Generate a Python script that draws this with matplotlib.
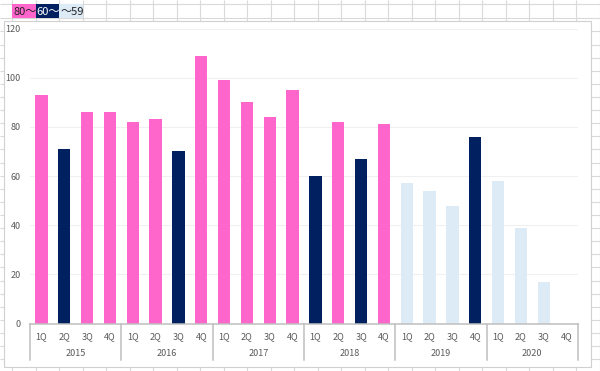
import numpy as np
import matplotlib
matplotlib.use("Agg")
import matplotlib.pyplot as plt
from matplotlib.patches import Rectangle

plt.rcParams['font.family'] = ['Noto Sans CJK JP', 'DejaVu Sans']

# ---- data ----
years = ["2015", "2016", "2017", "2018", "2019", "2020"]
quarters = ["1Q", "2Q", "3Q", "4Q"]
values = [93, 71, 86, 86,
          82, 83, 70, 109,
          99, 90, 84, 95,
          60, 82, 67, 81,
          57, 54, 48, 76,
          58, 39, 17, np.nan]
y_ticks = [0, 20, 40, 60, 80, 100, 120]
legend_labels = ["80～", "60～", "～59"]

# ---- style ----
PINK = "#FF66CC"
NAVY = "#002060"
LIGHT = "#DDEBF7"
TXT = "#595959"
W, H = 600, 371

def color_for(v):
    if v >= 80:
        return PINK
    if v >= 60:
        return NAVY
    return LIGHT

fig = plt.figure(figsize=(W / 100, H / 100), dpi=100)
fig.patch.set_facecolor("white")

# spreadsheet background (pixel coordinates)
bg = fig.add_axes([0, 0, 1, 1])
bg.set_xlim(0, W)
bg.set_ylim(H, 0)
bg.axis("off")
col_w = 23.49
xs = [12.3 + col_w * k for k in range(-1, 26)]
bg.vlines(xs, 0, H, colors="#D9D9D9", lw=0.8, zorder=1)
ys = [4.3] + [18.3 + 13.115 * k for k in range(0, 28)]
bg.hlines(ys, 0, W, colors="#D9D9D9", lw=0.8, zorder=1)

# legend-like cells
cell_colors = [PINK, NAVY, LIGHT]
text_colors = ["#222222", "white", "#222222"]
for i, (lab, fc, tc) in enumerate(zip(legend_labels, cell_colors, text_colors)):
    x0 = 12.3 + col_w * i
    bg.add_patch(Rectangle((x0, 4.3), col_w, 14.0, facecolor=fc, edgecolor="none", zorder=3))
for i, (lab, tc) in enumerate(zip(legend_labels, text_colors)):
    x0 = 12.3 + col_w * i
    bg.text(x0 + 0.8, 11.6, lab, fontsize=8, color=tc, ha="left", va="center", zorder=4)

# chart area
bg.add_patch(Rectangle((3.5, 20.5), 587.5, 346.0, facecolor="white",
                       edgecolor="#D0D0D0", lw=0.8, zorder=2))

# main plot axes
left, right, top, bottom = 30, 578, 28.5, 323.5
ax = fig.add_axes([left / W, (H - bottom) / H, (right - left) / W, (bottom - top) / H])
ax.set_facecolor("none")
n = len(values)
x = np.arange(n)
colors = [color_for(v) if not np.isnan(v) else "none" for v in values]
ax.bar(x, np.nan_to_num(values), width=0.54, color=colors, zorder=3)

ax.set_xlim(-0.5, n - 0.5)
ax.set_ylim(0, 120)
ax.set_yticks(y_ticks)
ax.set_yticklabels([str(t) for t in y_ticks], fontsize=6.5, color=TXT)
ax.tick_params(axis="y", length=0, pad=6.5)
ax.set_xticks([])
for t in y_ticks[1:]:
    ax.axhline(t, color="#F0F0F0", lw=0.8, zorder=1)
for s in ["top", "right", "left"]:
    ax.spines[s].set_visible(False)
ax.spines["bottom"].set_color("#BFBFBF")
ax.spines["bottom"].set_linewidth(1.1)
ax.spines["bottom"].set_zorder(4)

# multi-level category axis
labels_q = [q for _ in years for q in quarters]
for i, q in enumerate(labels_q):
    ax.annotate(q, xy=(i, 0), xycoords=("data", "axes fraction"),
                xytext=(0, -9.2), textcoords="offset points",
                ha="center", va="center", fontsize=6.5, color=TXT)
for g, yr in enumerate(years):
    ax.annotate(yr, xy=(g * 4 + 1.5, 0), xycoords=("data", "axes fraction"),
                xytext=(0, -21.3), textcoords="offset points",
                ha="center", va="center", fontsize=6.5, color=TXT)
sep_len = 36.0 / (bottom - top)
for g in range(len(years) + 1):
    ax.plot([g * 4 - 0.5, g * 4 - 0.5], [0, -sep_len], transform=ax.get_xaxis_transform(),
            color="#BFBFBF", lw=1.1, clip_on=False, zorder=4)

fig.savefig("out.png", dpi=100, facecolor="white")
